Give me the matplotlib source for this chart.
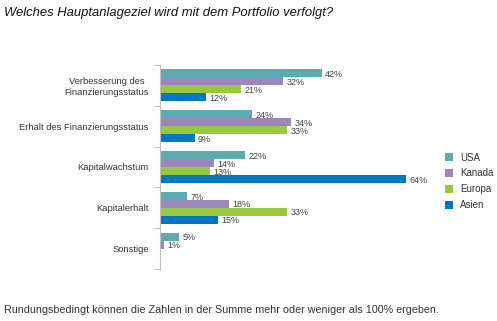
import matplotlib
matplotlib.use("Agg")
import matplotlib.pyplot as plt
import numpy as np

categories = ["Verbesserung des\nFinanzierungsstatus", "Erhalt des Finanzierungsstatus",
              "Kapitalwachstum", "Kapitalerhalt", "Sonstige"]
series_names = ["USA", "Kanada", "Europa", "Asien"]
usa = [42, 24, 22, 7, 5]
kanada = [32, 34, 14, 18, 1]
europa = [21, 33, 13, 33, None]
asien = [12, 9, 64, 15, None]
colors = ["#5AADAE", "#9C86BE", "#98C93C", "#0079C2"]

plt.rcParams['font.family'] = ['Liberation Sans', 'DejaVu Sans']

fig = plt.figure(figsize=(4.97, 3.21), dpi=100)
ax = fig.add_axes([0.322, 0.162, 0.557, 0.636])

series = [usa, kanada, europa, asien]
n = len(series)
bh = 0.195
y = np.arange(len(categories))
handles = []
for j, (vals, c, name) in enumerate(zip(series, colors, series_names)):
    off = (j - (n - 1) / 2) * bh
    ys, ws = [], []
    for i, v in enumerate(vals):
        if v is None:
            continue
        ys.append(y[i] + off)
        ws.append(v)
    bars = ax.barh(ys, ws, height=bh, color=c, label=name)
    handles.append(bars)
    for yy, w in zip(ys, ws):
        ax.text(w + 0.9, yy + 0.03, f"{w}%", va='center', ha='left', fontsize=6.5, color='#404040')

ax.set_xlim(0, 72)
ax.set_ylim(len(categories) - 0.5, -0.5)
ax.set_yticks(np.arange(len(categories) + 1) - 0.5)
ax.set_yticklabels([])
ax.set_yticks(y, minor=True)
ax.set_yticklabels(categories, minor=True, fontsize=6.75, color='#333333', ha='right',
                   multialignment='center')
ax.tick_params(axis='y', which='minor', length=0, pad=8)
ax.tick_params(axis='y', which='major', length=4, color='#BFBFBF', direction='out')
ax.set_xticks([])
for s in ['top', 'right', 'bottom']:
    ax.spines[s].set_visible(False)
ax.spines['left'].set_color('#BFBFBF')

leg = fig.legend(handles=handles, labels=series_names, loc='upper left',
                 bbox_to_anchor=(0.877, 0.552), frameon=False, fontsize=7,
                 handlelength=0.9, handleheight=0.9, labelspacing=0.6,
                 handletextpad=0.7, labelcolor='#333333')

fig.text(0.008, 0.978, "Welches Hauptanlageziel wird mit dem Portfolio verfolgt?",
         fontsize=9.4, style='italic', va='top', ha='left', color='#111111')
fig.text(0.008, 0.02, "Rundungsbedingt können die Zahlen in der Summe mehr oder weniger als 100% ergeben.",
         fontsize=7.75, va='bottom', ha='left', color='#333333')

fig.savefig("out.png", dpi=100)
